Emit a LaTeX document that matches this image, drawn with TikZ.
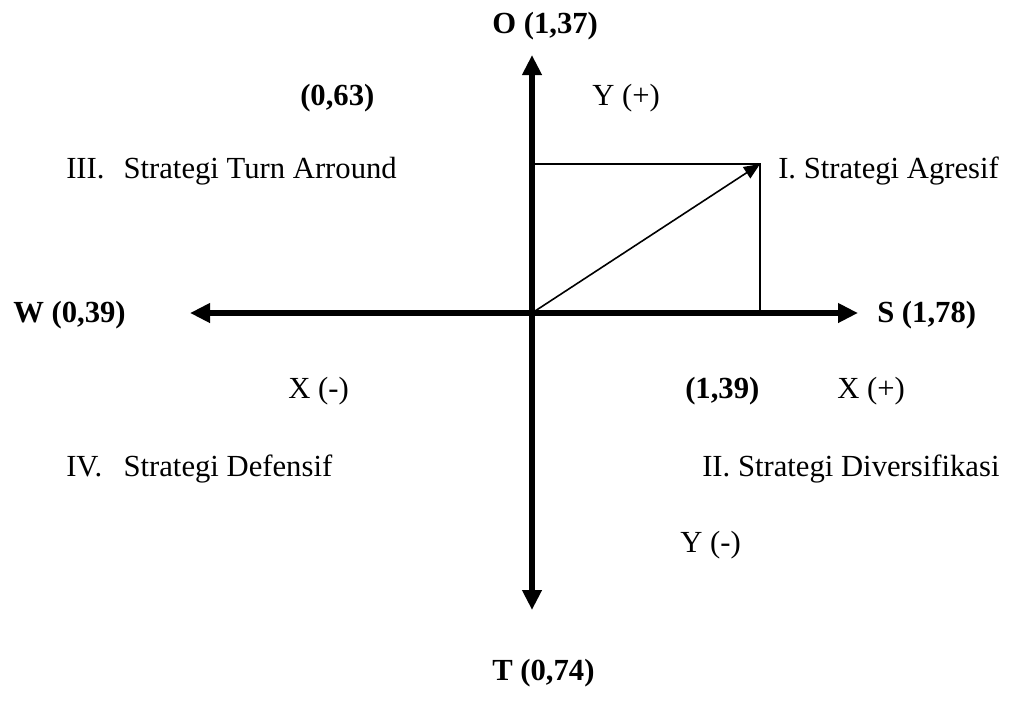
\documentclass[tikz,border=0pt]{standalone}
\usepackage{fontspec}
\setmainfont{Liberation Serif}
\usetikzlibrary{arrows.meta}
\newcommand{\numbox}[1]{\makebox[43pt][l]{#1}}
\begin{document}
\begin{tikzpicture}[x=0.75pt,y=-0.75pt,
  lbl/.style={inner sep=0pt,anchor=base west,font=\fontsize{23}{28}\selectfont},
  blbl/.style={lbl,font=\fontsize{23}{28}\selectfont\bfseries},
  axis/.style={line width=4.5pt,-{Triangle[length=15pt,width=14pt]}},
  thin/.style={line width=1pt},
  vec/.style={line width=1.2pt,-{Triangle[length=12pt,width=10pt]}}]
\useasboundingbox (0,0) rectangle (1013,701);
\coordinate (C) at (532,313);
\coordinate (top) at (532,55);
\coordinate (bot) at (532,610);
\coordinate (lft) at (190,313);
\coordinate (rgt) at (858,313);
\coordinate (P) at (760,164);
\coordinate (PY) at (532,164);
\coordinate (PX) at (760,313);
% thin rectangle and vector
\draw[thin] (PY) -- (P) -- (PX);
\draw[vec] (C) -- (P);
% axes
\draw[axis] (C) -- (top);
\draw[axis] (C) -- (bot);
\draw[axis] (C) -- (lft);
\draw[axis] (C) -- (rgt);
% labels
\node[blbl] (o) at (492,33) {O (1,37)};
\node[blbl] (oy) at (300,105) {(0,63)};
\node[lbl] (yp) at (592,105) {Y (+)};
\node[lbl] (q3) at (66,178) {\numbox{III.}Strategi Turn Arround};
\node[lbl] (q1) at (778,178) {I. Strategi Agresif};
\node[blbl] (w) at (13,322) {W (0,39)};
\node[blbl] (s) at (877,322) {S (1,78)};
\node[lbl] (xm) at (288,398) {X (-)};
\node[blbl] (sx) at (685,398) {(1,39)};
\node[lbl] (xp) at (837,398) {X (+)};
\node[lbl] (q4) at (66,476) {\numbox{IV.}Strategi Defensif};
\node[lbl] (q2) at (702,476) {II. Strategi Diversifikasi};
\node[lbl] (ym) at (680,552) {Y (-)};
\node[blbl] (t) at (492,680) {T (0,74)};
\end{tikzpicture}
\end{document}
